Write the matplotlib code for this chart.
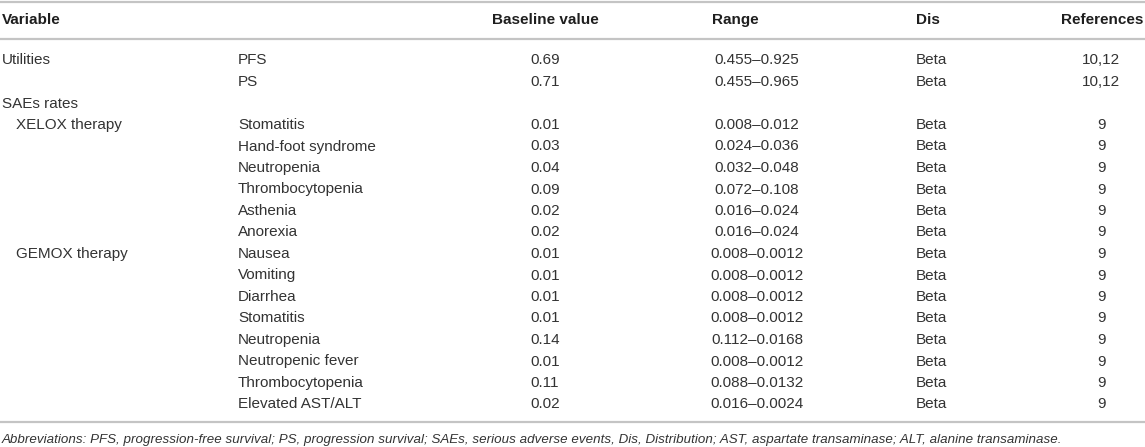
import matplotlib
matplotlib.use("Agg")
import matplotlib.pyplot as plt

# table content
headers = ["Variable", "Baseline value", "Range", "Dis", "References"]
groups = ["Utilities", "", "SAEs rates", "XELOX therapy", "", "", "", "", "",
          "GEMOX therapy", "", "", "", "", "", "", ""]
items = ["PFS", "PS", "", "Stomatitis", "Hand-foot syndrome", "Neutropenia",
         "Thrombocytopenia", "Asthenia", "Anorexia", "Nausea", "Vomiting",
         "Diarrhea", "Stomatitis", "Neutropenia", "Neutropenic fever",
         "Thrombocytopenia", "Elevated AST/ALT"]
baseline = ["0.69", "0.71", "", "0.01", "0.03", "0.04", "0.09", "0.02", "0.02",
            "0.01", "0.01", "0.01", "0.01", "0.14", "0.01", "0.11", "0.02"]
ranges = ["0.455\u20130.925", "0.455\u20130.965", "",
          "0.008\u20130.012", "0.024\u20130.036", "0.032\u20130.048",
          "0.072\u20130.108", "0.016\u20130.024", "0.016\u20130.024",
          "0.008\u20130.0012", "0.008\u20130.0012", "0.008\u20130.0012",
          "0.008\u20130.0012", "0.112\u20130.0168", "0.008\u20130.0012",
          "0.088\u20130.0132", "0.016\u20130.0024"]
dists = ["Beta", "Beta", ""] + ["Beta"] * 14
refs = ["10,12", "10,12", ""] + ["9"] * 14
footnote = ("Abbreviations: PFS, progression-free survival; PS, progression survival; "
            "SAEs, serious adverse events, Dis, Distribution; AST, aspartate transaminase; "
            "ALT, alanine transaminase.")

plt.rcParams["font.family"] = ["Liberation Sans", "DejaVu Sans"]

W, H = 1145, 447
fig = plt.figure(figsize=(W / 100, H / 100), dpi=100)
ax = fig.add_axes([0, 0, 1, 1])
ax.set_xlim(0, W)
ax.set_ylim(H, 0)
ax.axis("off")

txt = "#333333"
head_c = "#1e1e1e"
line_c = "#c4c4c4"
fs = 11
fs_note = 9.6

# rules
for y in [1.5, 39, 422]:
    ax.plot([0, W], [y, y], color=line_c, lw=1.6, solid_capstyle="butt")

# header
hy = 20
ax.text(2, hy, headers[0], ha="left", va="center", fontsize=fs, weight="bold", color=head_c)
ax.text(545, hy, headers[1], ha="center", va="center", fontsize=fs, weight="bold", color=head_c)
ax.text(712, hy, headers[2], ha="left", va="center", fontsize=fs, weight="bold", color=head_c)
ax.text(916, hy, headers[3], ha="left", va="center", fontsize=fs, weight="bold", color=head_c)
ax.text(1143, hy, headers[4], ha="right", va="center", fontsize=fs, weight="bold", color=head_c)

# body rows
y0, dy = 60.5, 21.5
for i in range(len(items)):
    y = y0 + i * dy
    gx = 2 if groups[i] in ("Utilities", "SAEs rates") else 16
    ax.text(gx, y, groups[i], ha="left", va="center", fontsize=fs, color=txt)
    ax.text(238, y, items[i], ha="left", va="center", fontsize=fs, color=txt)
    ax.text(545, y, baseline[i], ha="center", va="center", fontsize=fs, color=txt)
    ax.text(757, y, ranges[i], ha="center", va="center", fontsize=fs, color=txt)
    ax.text(916, y, dists[i], ha="left", va="center", fontsize=fs, color=txt)
    ax.text(1101, y, refs[i], ha="center", va="center", fontsize=fs, color=txt)

ax.text(2, 440, footnote, ha="left", va="center", fontsize=fs_note, style="italic", color=txt)

fig.savefig("out.png", dpi=100)
